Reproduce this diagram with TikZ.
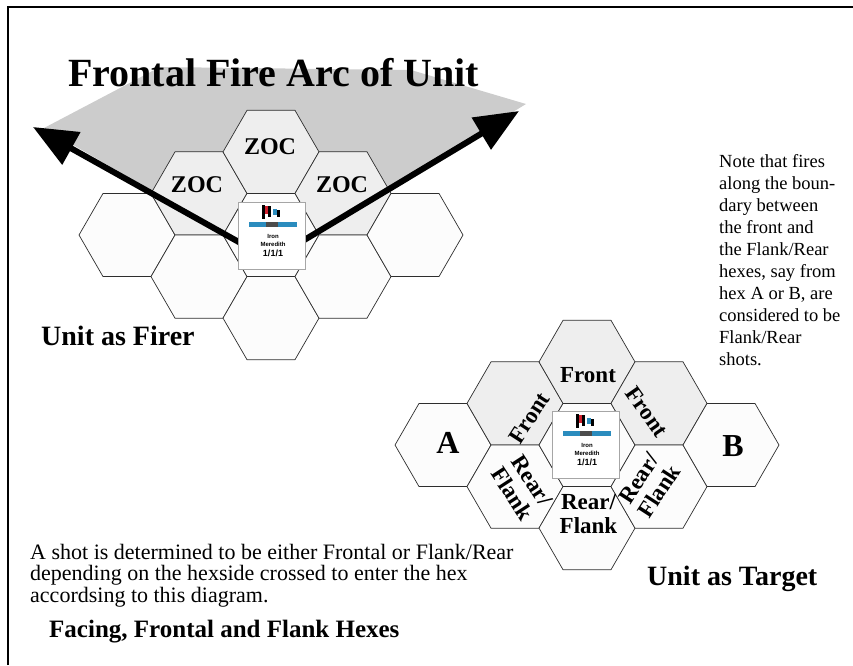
\documentclass[tikz,border=0pt]{standalone}
\usepackage{fontspec}
\setmainfont{Liberation Serif}
\setsansfont{Liberation Sans}
\usepackage{tikz}
\usetikzlibrary{shapes.geometric, arrows.meta, positioning, calc}
\definecolor{arcgray}{HTML}{CCCCCC}
\definecolor{zocgray}{HTML}{EEEEEE}
\definecolor{hexwhite}{HTML}{FCFCFC}
\definecolor{hexline}{HTML}{2E2E2E}
\definecolor{bannerblue}{HTML}{2B8CBE}
\definecolor{flagred}{HTML}{D0202E}

% unit counter: name, centre
\newcommand{\ironcounter}[2]{%
  \begin{scope}[shift={(#2)}]
    \node[draw=black!35, line width=1.5pt, fill=white, minimum size=67pt, inner sep=0pt] (#1) at (0,0) {};
    \fill[black] (-10,-31) rectangle (-7,-17);
    \fill[flagred] (-7,-30) rectangle (-4,-22);
    \fill[black] (-4,-30) rectangle (-1,-19);
    \fill[bannerblue] (1,-27) rectangle (5,-21);
    \fill[black] (5,-26) rectangle (8,-19);
    \fill[bannerblue] (-23,-14) rectangle (25,-9);
    \fill[black!70] (-6,-14) rectangle (6,-9);
    \node[font=\sffamily\bfseries\fontsize{6}{6}\selectfont, inner sep=0pt] (#1-a) at (1,0) {Iron};
    \node[font=\sffamily\bfseries\fontsize{6}{6}\selectfont, inner sep=0pt] (#1-b) at (1,8) {Meredith};
    \node[font=\sffamily\bfseries\fontsize{9}{9}\selectfont, inner sep=0pt] (#1-c) at (1,17) {1/1/1};
  \end{scope}}

\begin{document}
\begin{tikzpicture}[x=1pt, y=-1pt,
  plainhex/.style={regular polygon, regular polygon sides=6, minimum size=96pt, inner sep=0pt, draw=hexline, line width=0.7pt, fill=hexwhite},
  zochex/.style={plainhex, fill=zocgray},
  fronthex/.style={plainhex, fill=zocgray},
  hexword/.style={font=\bfseries\fontsize{23}{24}\selectfont, align=center, inner sep=0pt},
  bigword/.style={font=\bfseries\fontsize{28}{30}\selectfont, inner sep=0pt},
  plaintext/.style={align=left, inner sep=0pt}]
  \useasboundingbox (0,0) rectangle (853,665);
  \draw[line width=2pt] (8,665) -- (8,7) -- (853,7);

  % fire arc of the firer
  \coordinate (arcsrc) at (271,260);
  \coordinate (arcL) at (33,127);
  \coordinate (arcR) at (519,111);
  \fill[arcgray] (arcsrc) -- (44,128) -- (160,67) -- (411,70) -- (526,104) -- cycle;
  \node[font=\bfseries\fontsize{40}{40}\selectfont, anchor=base west, inner sep=0pt] (arctitle) at (68,86) {Frontal Fire Arc of Unit};

  \foreach \nm/\hx/\hy/\st in {fA/127/235/plainhex, fB/199/193.4/zochex, fC/199/276.6/plainhex,
      fD/271/151.9/zochex, fE/271/235/plainhex, fF/271/318.1/plainhex,
      fG/343/193.4/zochex, fH/343/276.6/plainhex, fI/415/235/plainhex}
    \node[\st] (\nm) at (\hx,\hy) {};

  \draw[line width=6pt, -{Triangle[length=44pt, width=36pt]}] (arcsrc) -- (arcL);
  \draw[line width=6pt, -{Triangle[length=44pt, width=36pt]}] (arcsrc) -- (arcR);
  \ironcounter{firer}{272,236}

  \node[hexword, font=\bfseries\fontsize{24}{24}\selectfont] (zocT) at (270,147) {ZOC};
  \node[hexword, font=\bfseries\fontsize{24}{24}\selectfont] (zocL) at (197,185) {ZOC};
  \node[hexword, font=\bfseries\fontsize{24}{24}\selectfont] (zocR) at (342,185) {ZOC};
  \node[bigword, anchor=base west] (firerlbl) at (41,345) {Unit as Firer};

  % target hexes
  \foreach \nm/\hx/\hy/\st in {tA/443/445/plainhex, tUL/515/403.4/fronthex, tLL/515/486.6/plainhex,
      tTop/587/361.9/fronthex, tMid/587/445/plainhex, tBot/587/528.1/plainhex,
      tUR/659/403.4/fronthex, tLR/659/486.6/plainhex, tB/731/445/plainhex}
    \node[\st] (\nm) at (\hx,\hy) {};
  \ironcounter{target}{586,445}

  \node[hexword] (frontT) at (588,375.5) {Front};
  \node[hexword, rotate=57] (frontL) at (529,418) {Front};
  \node[hexword, rotate=-55] (frontR) at (647,412) {Front};
  \node[hexword, rotate=-57] (rearL) at (522,487) {Rear/\\Flank};
  \node[hexword] (rearB) at (588.5,514.5) {Rear/\\Flank};
  \node[hexword, rotate=57] (rearR) at (649,485) {Rear/\\Flank};
  \node[font=\bfseries\fontsize{32}{32}\selectfont, inner sep=0pt] (hexA) at (448,443) {A};
  \node[font=\bfseries\fontsize{32}{32}\selectfont, inner sep=0pt] (hexB) at (733,446) {B};
  \node[bigword, anchor=base west] (targetlbl) at (647,585) {Unit as Target};

  % notes
  \node[plaintext, anchor=north west, font=\fontsize{18.5}{22}\selectfont] (sidenote) at (719,154)
    {Note that fires\\along the boun-\\dary between\\the front and\\the Flank/Rear\\hexes, say from\\hex A or B, are\\considered to be\\Flank/Rear\\shots.};
  \node[plaintext, anchor=north west, font=\fontsize{22}{21.5}\selectfont] (shotnote) at (30,544)
    {A shot is determined to be either Frontal or Flank/Rear\\depending on the hexside crossed to enter the hex\\accordsing to this diagram.};
  \node[font=\bfseries\fontsize{25}{25}\selectfont, anchor=base west, inner sep=0pt] (facinglbl) at (49,637) {Facing, Frontal and Flank Hexes};
\end{tikzpicture}
\end{document}
